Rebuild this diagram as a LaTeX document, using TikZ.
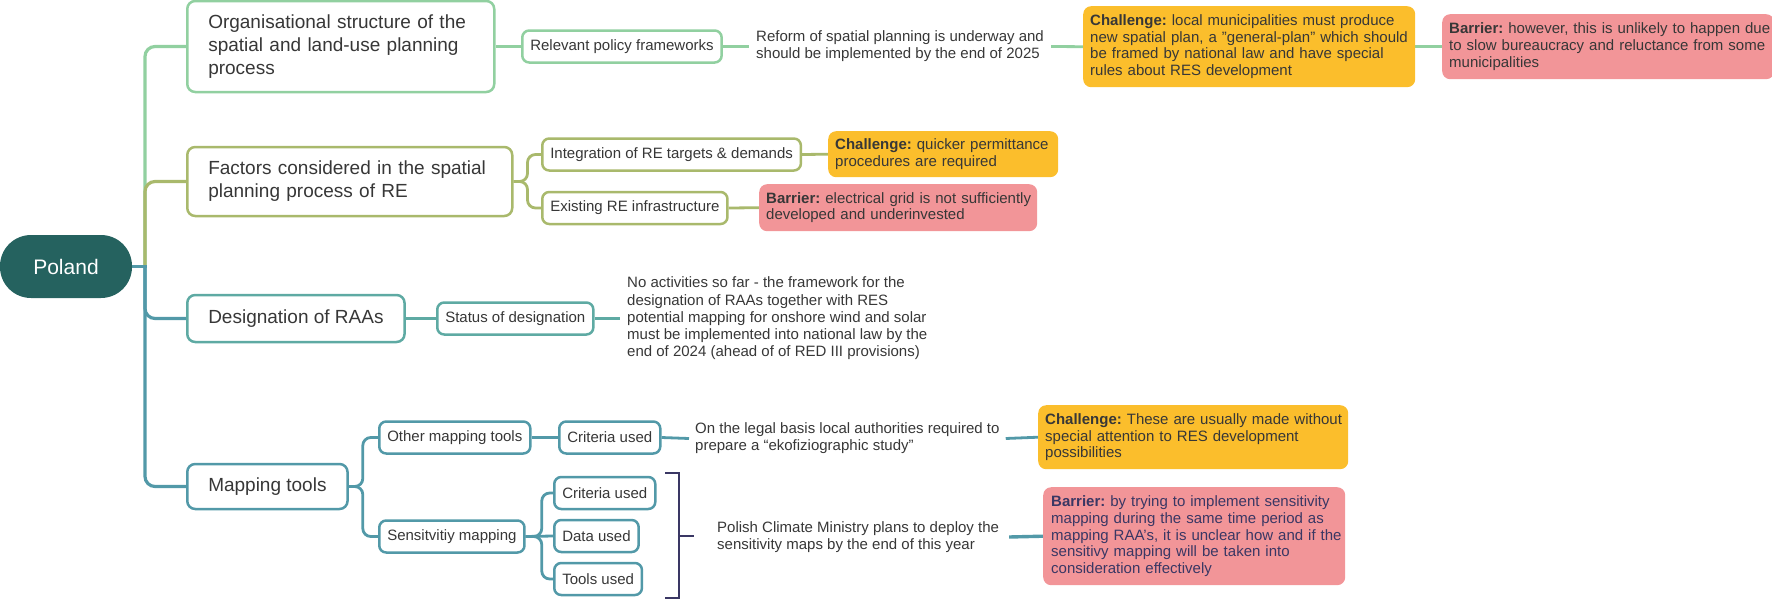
\documentclass[tikz,border=0pt]{standalone}
\usepackage{fontspec}
\setmainfont{Liberation Sans}
\usetikzlibrary{backgrounds}

\definecolor{cGreen}{RGB}{145,208,160}
\definecolor{cOlive}{RGB}{169,185,108}
\definecolor{cTealG}{RGB}{94,170,163}
\definecolor{cTeal}{RGB}{82,153,168}
\definecolor{cRoot}{RGB}{37,98,95}
\definecolor{cAmber}{RGB}{251,190,44}
\definecolor{cPink}{RGB}{242,149,152}
\definecolor{cNavy}{RGB}{58,55,100}
\definecolor{cText}{RGB}{55,55,55}

% one unbreakable line of card text
\newcommand{\cardline}[1]{\mbox{#1}}

\begin{document}
\frenchspacing
\begin{tikzpicture}[x=1pt,y=-1pt,
  root/.style={fill=cRoot, text=white, rounded corners=31pt, minimum width=132pt,
    minimum height=63pt, inner sep=0pt, font=\fontsize{21}{25}\selectfont},
  topic/.style={draw, line width=2.5pt, rounded corners=8pt, fill=white, align=left,
    anchor=west, inner xsep=21pt, inner ysep=0pt, text=cText,
    font=\fontsize{19}{23}\selectfont},
  item/.style={draw, line width=2.5pt, rounded corners=7pt, fill=white, anchor=west,
    inner xsep=8pt, inner ysep=0pt, minimum height=32pt, text=cText,
    font=\fontsize{15}{17}\selectfont},
  note/.style={anchor=west, align=left, inner xsep=7pt, inner ysep=0pt, text=cText,
    font=\fontsize{15}{17.2}\selectfont},
  card/.style={anchor=north west, rounded corners=8pt, align=left, inner xsep=7pt,
    inner ysep=0pt, text=cText, font=\fontsize{15}{16.8}\selectfont},
  challenge/.style={card, fill=cAmber},
  barrier/.style={card, fill=cPink},
  link/.style={line width=2.8pt},
  branch/.style={line width=3.2pt, rounded corners=10pt},
  bracket/.style={line width=2.6pt, draw=cNavy}
]
\useasboundingbox (0,0) rectangle (1772,600);

% root and main topics
\node[root] (root) at (66,266.5) {Poland};
\coordinate (hub) at (145,266.5);

\node[topic, draw=cGreen, text width=265pt, minimum height=91pt] (t1) at (186,46.5)
  {Organisational structure of the\\spatial and land-use planning\\process};
\node[topic, draw=cOlive, text width=283pt, minimum height=69pt] (t2) at (186,181.5)
  {Factors considered in the spatial\\planning process of RE};
\node[topic, draw=cTealG, minimum height=47pt] (t3) at (186,318.5) {Designation of RAAs};
\node[topic, draw=cTeal, minimum height=45pt] (t4) at (186,486.5) {Mapping tools};

% branch 1
\node[item, draw=cGreen] (rpf) at (521,46.5) {Relevant policy frameworks};
\node[note] (ref) at (749,46.5)
  {Reform of spatial planning is underway and\\should be implemented by the end of 2025};
\node[challenge, minimum width=332pt, text width=318pt, minimum height=81pt] (ch1) at (1083,6)
  {\cardline{\textbf{Challenge:} local municipalities must produce}\\
   \cardline{new spatial plan, a "general-plan" which should}\\
   \cardline{be framed by national law and have special}\\
   \cardline{rules about RES development}};
\node[barrier, minimum width=332pt, text width=318pt, minimum height=65pt] (ba1) at (1442,14)
  {\cardline{\textbf{Barrier:} however, this is unlikely to happen due}\\
   \cardline{to slow bureaucracy and reluctance from some}\\
   \cardline{municipalities}};

% branch 2
\node[item, draw=cOlive] (int) at (541,154.5) {Integration of RE targets \& demands};
\node[item, draw=cOlive] (exi) at (541,208) {Existing RE infrastructure};
\node[challenge, minimum width=230pt, text width=216pt, minimum height=46pt] (chq) at (828,131)
  {\cardline{\textbf{Challenge:} quicker permittance}\\
   \cardline{procedures are required}};
\node[barrier, minimum width=278pt, text width=264pt, minimum height=47pt] (bae) at (759,184)
  {\cardline{\textbf{Barrier:} electrical grid is not sufficiently}\\
   \cardline{developed and underinvested}};

% branch 3
\node[item, draw=cTealG] (sta) at (436,318.5) {Status of designation};
\node[note] (noa) at (620,318.5)
  {No activities so far - the framework for the\\designation of RAAs together with RES\\potential mapping for onshore wind and solar\\must be implemented into national law by the\\end of 2024 (ahead of of RED III provisions)};

% branch 4
\node[item, draw=cTeal] (oth) at (378,437.5) {Other mapping tools};
\node[item, draw=cTeal] (sen) at (378,536.5) {Sensitvitiy mapping};
\node[item, draw=cTeal] (cr1) at (558,437.5) {Criteria used};
\node[item, draw=cTeal] (cr2) at (553,493) {Criteria used};
\node[item, draw=cTeal] (dat) at (553,536) {Data used};
\node[item, draw=cTeal] (too) at (553,579) {Tools used};
\node[note, inner xsep=6pt] (leg) at (689,438.5)
  {On the legal basis local authorities required to\\prepare a “ekofiziographic study”};
\node[note, inner xsep=10pt] (pol) at (707,537)
  {Polish Climate Ministry plans to deploy the\\sensitivity maps by the end of this year};
\node[challenge, minimum width=310pt, text width=296pt, minimum height=64pt] (ch2) at (1038,405)
  {\cardline{\textbf{Challenge:} These are usually made without}\\
   \cardline{special attention to RES development}\\
   \cardline{possibilities}};
\node[barrier, text=cNavy, inner xsep=8pt, minimum width=302pt, text width=286pt, minimum height=98pt] (ba2) at (1043,487)
  {\cardline{\textbf{Barrier:} by trying to implement sensitivity}\\
   \cardline{mapping during the same time period as}\\
   \cardline{mapping RAA's, it is unclear how and if the}\\
   \cardline{sensitivy mapping will be taken into}\\
   \cardline{consideration effectively}};

% bracket grouping the sensitivity mapping items
\coordinate (bkTop) at (665,473);
\coordinate (bkTopR) at (679,473);
\coordinate (bkBotR) at (679,598);
\coordinate (bkBot) at (665,598);
\coordinate (bkMid) at (679,536);
\coordinate (bkTip) at (694,536);

\begin{pgfonlayer}{background}
  % trunk
  \draw[branch, cGreen] (hub) |- (t1.west);
  \draw[branch, cOlive] (hub) |- (t2.west);
  \draw[branch, cTeal] (hub) |- (t4.west);
  \draw[branch, cTeal] (hub) |- (t3.west);
  \draw[line width=3.2pt, cTeal] (root.east) -- ([xshift=1.6pt]hub);

  % branch 1
  \draw[link, cGreen] (t1.east) -- (rpf.west);
  \draw[link, cGreen] (rpf.east) -- (ref.west);
  \draw[link, cGreen] (ref.east) -- (ch1.west);
  \draw[link, cGreen] (ch1.east) -- (ba1.west);

  % branch 2
  \draw[link, cOlive, rounded corners=8pt] (t2.east) -- ++(14,0) |- (int.west);
  \draw[link, cOlive, rounded corners=8pt] (t2.east) -- ++(14,0) |- (exi.west);
  \draw[link, cOlive] (int.east) -- (chq.west);
  \draw[link, cOlive] (exi.east) -- (bae.west);

  % branch 3
  \draw[link, cTealG] (t3.east) -- (sta.west);
  \draw[link, cTealG] (sta.east) -- (noa.west);

  % branch 4
  \draw[link, cTeal, rounded corners=8pt] (t4.east) -- ++(14,0) |- (oth.west);
  \draw[link, cTeal, rounded corners=8pt] (t4.east) -- ++(14,0) |- (sen.west);
  \draw[link, cTeal] (oth.east) -- (cr1.west);
  \draw[link, cTeal] (cr1.east) -- (leg.west);
  \draw[link, cTeal] (leg.east) -- (ch2.west);
  \draw[link, cTeal, rounded corners=8pt] (sen.east) -- ++(16,0) |- (cr2.west);
  \draw[link, cTeal] (sen.east) -- (dat.west);
  \draw[link, cTeal, rounded corners=8pt] (sen.east) -- ++(16,0) |- (too.west);
  \draw[link, cTeal, line width=3.4pt] (pol.east) -- (ba2.west);

  \draw[bracket] (bkTop) -- (bkTopR) -- (bkBotR) -- (bkBot);
  \draw[bracket] (bkMid) -- (bkTip);
\end{pgfonlayer}
\end{tikzpicture}
\end{document}
